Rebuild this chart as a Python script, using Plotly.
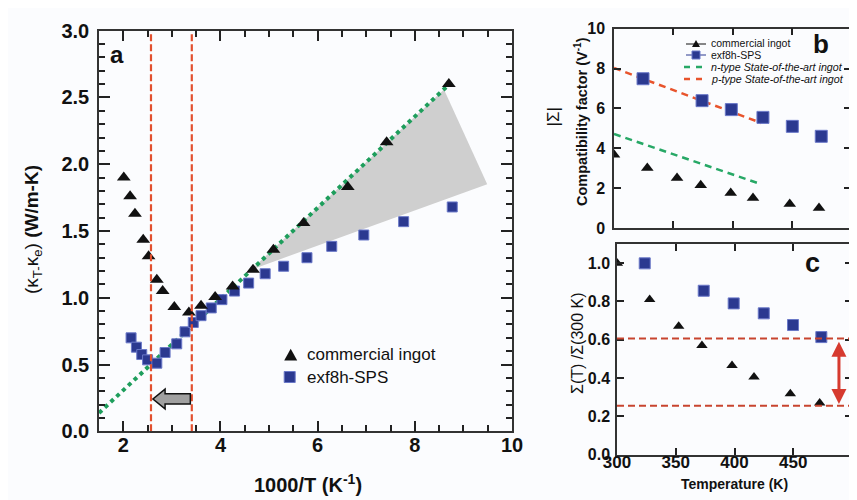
import plotly.graph_objects as go

# ---------------- data: panel a ----------------
a_ingot_x = [2.01, 2.14, 2.24, 2.41, 2.52, 2.69, 2.81, 3.05, 3.35, 3.60, 3.89, 4.25, 4.67, 5.09, 5.71, 6.62, 7.42, 8.70]
a_ingot_y = [1.90, 1.76, 1.63, 1.435, 1.31, 1.135, 1.05, 0.93, 0.89, 0.94, 1.005, 1.085, 1.21, 1.36, 1.56, 1.83, 2.165, 2.60]
a_sps_x = [2.16, 2.27, 2.38, 2.50, 2.69, 2.86, 3.10, 3.27, 3.44, 3.60, 3.81, 4.03, 4.29, 4.58, 4.92, 5.30, 5.78, 6.29, 6.95, 7.77, 8.77]
a_sps_y = [0.70, 0.63, 0.575, 0.535, 0.51, 0.59, 0.655, 0.745, 0.815, 0.866, 0.924, 0.986, 1.05, 1.11, 1.18, 1.236, 1.30, 1.385, 1.47, 1.57, 1.68]
a_fit_x = [1.5, 8.74]
a_fit_y = [0.137, 2.61]
shade_x = [4.63, 8.6, 9.49, 4.63]
shade_y = [1.21, 2.56, 1.85, 1.21]
vlines_x = [2.57, 3.41]

# ---------------- data: panel b ----------------
b_ingot_T = [300, 328.1, 353.2, 373.2, 398.5, 417.3, 448.3, 473]
b_ingot_s = [3.68, 3.01, 2.51, 2.14, 1.76, 1.51, 1.20, 1.00]
b_sps_T = [324.5, 374.3, 399, 425.7, 450.5, 474.9]
b_sps_s = [7.49, 6.39, 5.94, 5.55, 5.10, 4.60]
b_n_T = [300, 423]
b_n_s = [4.72, 2.22]
b_p_T = [300, 424.3]
b_p_s = [8.03, 5.27]

# ---------------- data: panel c ----------------
c_ingot_T = [300.3, 327.8, 352.5, 372.3, 397.9, 416.6, 447.5, 472.5]
c_ingot_r = [1.0, 0.81, 0.67, 0.57, 0.466, 0.405, 0.318, 0.27]
c_sps_T = [323.6, 373.8, 399.3, 424.9, 449.8, 473.9]
c_sps_r = [0.999, 0.856, 0.79, 0.738, 0.677, 0.614]
c_hlines = [0.607, 0.256]

FONT = "Liberation Sans, Arial, sans-serif"
BLUE = "#2B3990"
BLACK = "#111111"
W, H = 857, 500

fig = go.Figure()

# panel a
fig.add_trace(go.Scatter(x=shade_x, y=shade_y, fill="toself", fillcolor="#CFCFCF",
                         line=dict(width=0), mode="lines", hoverinfo="skip",
                         xaxis="x", yaxis="y", showlegend=False))
fig.add_trace(go.Scatter(x=a_fit_x, y=a_fit_y, mode="lines",
                         line=dict(color="#1E9E5C", width=4, dash="4px,4px"),
                         xaxis="x", yaxis="y", showlegend=False))
fig.add_trace(go.Scatter(x=a_sps_x, y=a_sps_y, mode="markers",
                         marker=dict(symbol="square", size=10, color=BLUE,
                                     line=dict(color="#6A78C8", width=1)),
                         xaxis="x", yaxis="y", showlegend=False))
fig.add_trace(go.Scatter(x=a_ingot_x, y=a_ingot_y, mode="markers",
                         marker=dict(symbol="triangle-up", size=12, color=BLACK),
                         xaxis="x", yaxis="y", showlegend=False))

# panel b
fig.add_trace(go.Scatter(x=b_n_T, y=b_n_s, mode="lines",
                         line=dict(color="#27A866", width=2.5, dash="7px,5px"),
                         xaxis="x2", yaxis="y2", showlegend=False))
fig.add_trace(go.Scatter(x=b_p_T, y=b_p_s, mode="lines",
                         line=dict(color="#E8542C", width=2.5, dash="7px,5px"),
                         xaxis="x2", yaxis="y2", showlegend=False))
fig.add_trace(go.Scatter(x=b_sps_T, y=b_sps_s, mode="markers",
                         marker=dict(symbol="square", size=12, color=BLUE,
                                     line=dict(color="#6A78C8", width=1)),
                         xaxis="x2", yaxis="y2", showlegend=False))
fig.add_trace(go.Scatter(x=b_ingot_T, y=b_ingot_s, mode="markers",
                         marker=dict(symbol="triangle-up", size=11, color=BLACK),
                         xaxis="x2", yaxis="y2", showlegend=False))

# panel c
fig.add_trace(go.Scatter(x=c_sps_T, y=c_sps_r, mode="markers",
                         marker=dict(symbol="square", size=11, color=BLUE,
                                     line=dict(color="#6A78C8", width=1)),
                         xaxis="x3", yaxis="y3", showlegend=False))
fig.add_trace(go.Scatter(x=c_ingot_T, y=c_ingot_r, mode="markers",
                         marker=dict(symbol="triangle-up", size=10, color=BLACK),
                         xaxis="x3", yaxis="y3", showlegend=False))

TICKC = "#222222"


def axis(**kw):
    d = dict(showline=True, linecolor="#333333", linewidth=1.5, mirror="allticks",
             ticks="inside", tickcolor=TICKC, tickwidth=1.5, showgrid=False,
             zeroline=False, automargin=False)
    d.update(kw)
    return d


fig.update_layout(
    width=W, height=H, margin=dict(l=0, r=0, t=0, b=0),
    paper_bgcolor="#FBFCFE", plot_bgcolor="#FBFCFE",
    font=dict(family=FONT, color=BLACK),
    xaxis=axis(domain=[91/W, 504/W], range=[1.5, 10], tickmode="array", tickvals=[2, 4, 6, 8, 10],
               ticklen=11, ticklabelstandoff=-5,
               tickfont=dict(size=20, weight="bold"),
               minor=dict(dtick=0.5, tick0=0, ticks="inside", ticklen=7, tickwidth=1.5,
                          tickcolor=TICKC),
               anchor="y"),
    yaxis=axis(domain=[76.7/H, 477.3/H], range=[0, 3], dtick=0.5, tickformat=".1f",
               ticklen=11, ticklabelstandoff=4,
               tickfont=dict(size=20, weight="bold"),
               minor=dict(dtick=0.1, tick0=0, ticks="inside", ticklen=6, tickwidth=1.5,
                          tickcolor=TICKC),
               anchor="x"),
    xaxis2=axis(domain=[606/W, 843/W], range=[300, 500], dtick=50, showticklabels=False,
                ticklen=7, anchor="y2"),
    yaxis2=axis(domain=[280/H, 479.3/H], range=[0, 10], dtick=2, ticklen=7,
                ticklabelstandoff=4, tickfont=dict(size=16, weight="bold"),
                anchor="x2"),
    xaxis3=axis(domain=[609/W, 844/W], range=[300, 500], dtick=50, ticklen=7,
                ticklabelstandoff=-9, tickfont=dict(size=17, weight="bold"),
                anchor="y3"),
    yaxis3=axis(domain=[53.3/H, 264/H], range=[0, 1.1], dtick=0.2, tickformat=".1f",
                ticklen=7, ticklabelstandoff=2, tickfont=dict(size=16, weight="bold"),
                anchor="x3"),
)

shapes = []
# red vertical dashed lines (panel a)
for xv in vlines_x:
    shapes.append(dict(type="line", xref="x", yref="y", x0=xv, x1=xv, y0=0, y1=2.98,
                       line=dict(color="#E2502F", width=2.2, dash="7px,3px")))
# grey arrow (panel a)
shapes.append(dict(type="path", xref="x", yref="y",
                   path="M 3.38 0.205 L 2.86 0.205 L 2.86 0.168 L 2.61 0.242 L 2.86 0.316 L 2.86 0.282 L 3.38 0.282 Z",
                   fillcolor="#A0A0A0", line=dict(color="#111111", width=1.5)))
# horizontal dashed lines panel c
for yv in c_hlines:
    shapes.append(dict(type="line", xref="x3", yref="y3", x0=300, x1=500, y0=yv, y1=yv,
                       line=dict(color="#C8442F", width=2, dash="7px,4px")))


def px(x):
    return x / W


def py(y):
    return 1 - y / H


def tri(cx, cy, s):
    h = s * 0.9
    return dict(type="path", xref="paper", yref="paper",
                path=f"M {px(cx - s/2)} {py(cy + h/2)} L {px(cx + s/2)} {py(cy + h/2)} L {px(cx)} {py(cy - h/2)} Z",
                fillcolor=BLACK, line=dict(width=0))


def sq(cx, cy, s):
    return dict(type="rect", xref="paper", yref="paper",
                x0=px(cx - s/2), x1=px(cx + s/2), y0=py(cy + s/2), y1=py(cy - s/2),
                fillcolor=BLUE, line=dict(color="#6A78C8", width=1))


def seg(x0, x1, y, color, width, dash="solid"):
    return dict(type="line", xref="paper", yref="paper", x0=px(x0), x1=px(x1), y0=py(y), y1=py(y),
                line=dict(color=color, width=width, dash=dash))


# legend panel a
shapes.append(tri(282.7, 346.7, 13))
shapes.append(sq(281.7, 369, 11))
# legend panel b
shapes.append(seg(678, 698, 36, BLACK, 1))
shapes.append(tri(688, 35.5, 8))
shapes.append(seg(678, 698, 47, BLUE, 1))
shapes.append(sq(688, 47, 8))
shapes.append(seg(676, 700, 59, "#27A866", 2.5, "6px,6px"))
shapes.append(seg(676, 700, 71, "#E8542C", 2.5, "6px,6px"))

fig.update_layout(shapes=shapes)

ann = []


def text(x, y, t, size, xanchor="left", angle=0, bold=False, italic=False):
    ann.append(dict(x=px(x), y=py(y), xref="paper", yref="paper", text=t, showarrow=False,
                    xanchor=xanchor, yanchor="middle", textangle=angle,
                    font=dict(family=FONT, size=size, color=BLACK,
                              weight="bold" if bold else "normal",
                              style="italic" if italic else "normal")))


text(297, 346.7, "commercial ingot", 17)
text(297, 369, "exf8h-SPS", 17)
text(701, 35.5, "commercial ingot", 10.5)
text(701, 47, "exf8h-SPS", 10.5)
text(701, 59, "n-type State-of-the-art ingot", 10.7, italic=True)
text(701, 71, "p-type State-of-the-art ingot", 10.7, italic=True)
text(109, 46.5, "a", 24, xanchor="center", bold=True)
text(813, 36, "b", 26, xanchor="center", bold=True)
text(804, 255, "c", 27, xanchor="center", bold=True)
text(300, 475, "1000/T (K<sup>-1</sup>)", 20, xanchor="center", bold=True)
text(25, 222, "(κ<sub>T-</sub>κ<sub>e</sub>) <b>(W/m-K)</b>", 19, xanchor="center", angle=-90)
text(545.5, 109, "|Σ|", 17, xanchor="center", angle=-90)
text(573, 114, "Compatibility factor (V<sup>-1</sup>)", 14.5, xanchor="center", angle=-90, bold=True)
text(569, 335, "Σ(T) /Σ(300 K)", 16, xanchor="center", angle=-90)
text(726, 476, "Temperature (K)", 14, xanchor="center", bold=True)

# double arrow panel c
ann.append(dict(x=488.9, y=0.265, ax=488.9, ay=0.598, xref="x3", yref="y3", axref="x3", ayref="y3",
                text="", showarrow=True, arrowhead=2, arrowside="end+start", arrowsize=1,
                arrowwidth=3, arrowcolor="#D63A2F"))

fig.update_layout(annotations=ann)

fig.write_html("out.html")
